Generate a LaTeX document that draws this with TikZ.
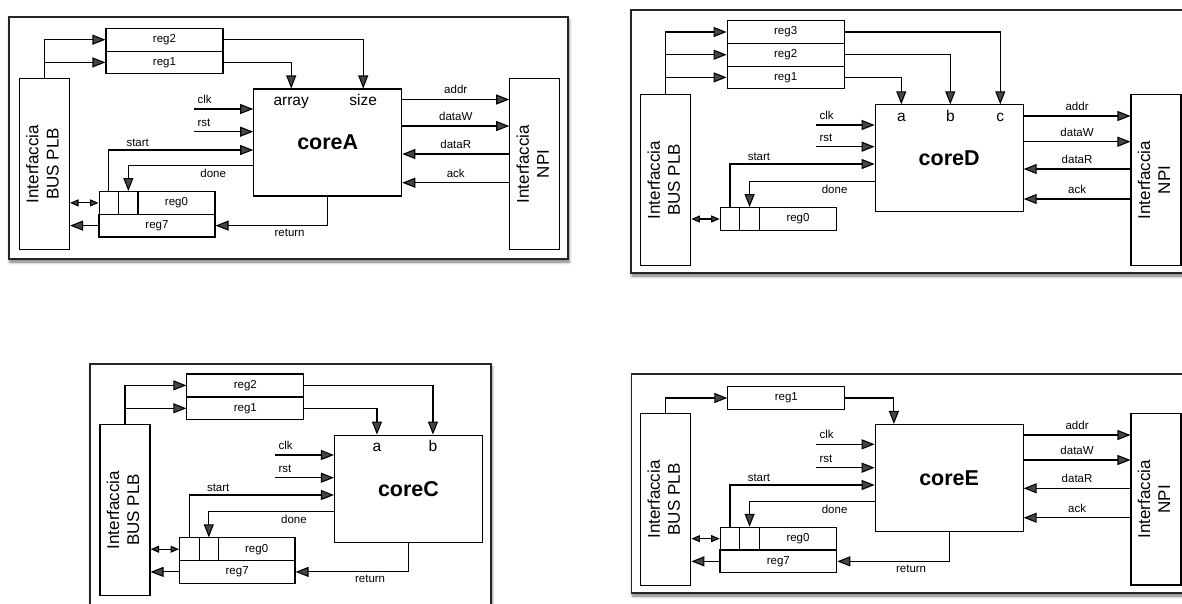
\documentclass[tikz,border=0pt]{standalone}
\usepackage{fontspec}
\usepackage{graphicx}
\setmainfont{Liberation Sans}
\usetikzlibrary{arrows.meta,shadows.blur}
\newcommand\sigsz{\fontsize{11.5}{13}\selectfont}
\newcommand\portsz{\fontsize{15.5}{17}\selectfont}
\newcommand\coresz{\fontsize{21.5}{24}\selectfont\bfseries}
\newcommand\ifsz{\fontsize{17}{20}\selectfont}
\newcommand\iftext[1]{\rotatebox{90}{\begin{tabular}{@{}c@{}}#1\end{tabular}}}
\tikzset{
  panel/.style={draw=black!85,line width=1.3pt,fill=white,blur shadow={shadow xshift=1pt,shadow yshift=-3pt,shadow blur radius=3pt,shadow opacity=55}},
  blk/.style={draw,line width=1.1pt,inner sep=0pt,fill=white,font=\sigsz},
  iface/.style={blk,minimum width=50,minimum height=171.5,font=\ifsz},
  core/.style={blk,minimum width=148,minimum height=107,font=\coresz},
  reg/.style={blk,minimum width=117,minimum height=22.7},
  cell/.style={blk,minimum width=19.5,minimum height=22.7},
  reghi/.style={blk,minimum width=77,minimum height=22.7},
  port/.style={font=\portsz,anchor=north,inner xsep=2pt,inner ysep=5pt,text height=11.5pt,text depth=3pt},
  arr/.style={line width=1.1pt,-{Triangle[length=13pt,width=10pt]}},
  dbl/.style={line width=1.1pt,{Triangle[length=8.5pt,width=7pt]}-{Triangle[length=8.5pt,width=7pt]}},
  lab/.style={font=\sigsz,inner sep=3pt},
}
\begin{document}
\begin{tikzpicture}[x=1pt,y=-1pt]
\useasboundingbox (0,0) rectangle (1182,603);
\clip (0,0) rectangle (1182,603);
% coreA
\path[panel] (9,17) rectangle (568,259);
\node[reg] (reg2A) at (164.5,39.7) {reg2};
\node[reg] (reg1A) at (164.5,62.4) {reg1};
\node[iface] (busA) at (44.5,164) {\iftext{Interfaccia\\BUS PLB}};
\node[core] (coreA) at (327.75,142.5) {coreA};
\node[iface] (npiA) at (534.75,164) {\iftext{Interfaccia\\NPI}};
\node[port] (arrayA) at ([xshift=38pt]coreA.north west) {array};
\node[port] (sizeA) at ([xshift=110pt]coreA.north west) {size};
\node[cell] (c1A) at (108.85,202.9) {};
\node[cell] (c2A) at (128.35,202.9) {};
\node[reghi] (reg0A) at (176.5,202.9) {reg0};
\node[reg,minimum width=116] (reg7A) at (157,225.6) {reg7};
\coordinate (clkA) at (194,109);
\coordinate (rstA) at (194,131.7);
\draw[arr] (busA.north) |- (reg2A.west);
\draw[arr] (busA.north) |- (reg1A.west);
\draw[arr] (reg1A.east) -| (arrayA.north);
\draw[arr] (reg2A.east) -| (sizeA.north);
\draw[arr] (clkA) node[lab,above right,yshift=2pt] {clk} -- (clkA -| coreA.west);
\draw[arr] (rstA) node[lab,above right,yshift=2pt] {rst} -- (rstA -| coreA.west);
\draw[arr] (c1A.north) |- node[lab,above,pos=0.6] {start} (coreA.west |- 0,150);
\draw[arr] (coreA.west |- 0,165.5) -| node[lab,below,pos=0.16] {done} (c2A.north);
\draw[dbl] (busA.east |- c1A.west) -- (c1A.west);
\draw[arr] (reg7A.west) -- (reg7A.west -| busA.east);
\draw[arr] (coreA.south) |- node[lab,below,pos=0.67] {return} (reg7A.east);
\draw[arr] (coreA.east |- 0,99.5) -- node[lab,above,yshift=2pt] {addr} (npiA.west |- 0,99.5);
\draw[arr] (coreA.east |- 0,126) -- node[lab,above,yshift=2pt] {dataW} (npiA.west |- 0,126);
\draw[arr] (npiA.west |- 0,154) -- node[lab,above,yshift=2pt] {dataR} (coreA.east |- 0,154);
\draw[arr] (npiA.west |- 0,182.7) -- node[lab,above,yshift=2pt] {ack} (coreA.east |- 0,182.7);
% coreD
\path[panel] (631,10) rectangle (1195,273);
\node[reg] (reg3D) at (785.65,32) {reg3};
\node[reg] (reg2D) at (785.65,54.7) {reg2};
\node[reg] (reg1D) at (785.65,77.4) {reg1};
\node[iface] (busD) at (665.85,180) {\iftext{Interfaccia\\BUS PLB}};
\node[core] (coreD) at (949.15,158.35) {coreD};
\node[iface] (npiD) at (1156,180) {\iftext{Interfaccia\\NPI}};
\node[port] (aD) at ([xshift=26.7pt]coreD.north west) {a};
\node[port] (bD) at ([xshift=75.7pt]coreD.north west) {b};
\node[port] (cD) at ([xshift=125.7pt]coreD.north west) {c};
\node[cell] (c1D) at (730,219) {};
\node[cell] (c2D) at (749.6,219) {};
\node[reghi,minimum width=77.4] (reg0D) at (798,219) {reg0};
\coordinate (clkD) at (816,125);
\coordinate (rstD) at (816,146.7);
\draw[arr] (busD.north) |- (reg3D.west);
\draw[arr] (busD.north) |- (reg2D.west);
\draw[arr] (busD.north) |- (reg1D.west);
\draw[arr] (reg1D.east) -| (aD.north);
\draw[arr] (reg2D.east) -| (bD.north);
\draw[arr] (reg3D.east) -| (cD.north);
\draw[arr] (clkD) node[lab,above right,yshift=2pt] {clk} -- (clkD -| coreD.west);
\draw[arr] (rstD) node[lab,above right,yshift=2pt] {rst} -- (rstD -| coreD.west);
\draw[arr] (c1D.north) |- node[lab,above,pos=0.6] {start} (coreD.west |- 0,164);
\draw[arr] (coreD.west |- 0,181.7) -| node[lab,below,pos=0.16] {done} (c2D.north);
\draw[dbl] (busD.east |- c1D.west) -- (c1D.west);
\draw[arr] (coreD.east |- 0,116) -- node[lab,above,yshift=2pt] {addr} (npiD.west |- 0,116);
\draw[arr] (coreD.east |- 0,141.7) -- node[lab,above,yshift=2pt] {dataW} (npiD.west |- 0,141.7);
\draw[arr] (npiD.west |- 0,169) -- node[lab,above,yshift=2pt] {dataR} (coreD.east |- 0,169);
\draw[arr] (npiD.west |- 0,199) -- node[lab,above,yshift=2pt] {ack} (coreD.east |- 0,199);
% coreC
\path[panel] (90,364) rectangle (491,620);
\node[reg] (reg2C) at (245.35,385.35) {reg2};
\node[reg] (reg1C) at (245.35,408.3) {reg1};
\node[iface] (busC) at (125,510) {\iftext{Interfaccia\\BUS PLB}};
\node[core] (coreC) at (408.5,488.65) {coreC};
\node[port] (aC) at ([xshift=43pt]coreC.north west) {a};
\node[port] (bC) at ([xshift=99pt]coreC.north west) {b};
\node[cell] (c1C) at (189.3,549.2) {};
\node[cell] (c2C) at (208.8,549.2) {};
\node[reghi,minimum width=76.7] (reg0C) at (256.65,549.2) {reg0};
\node[reg,minimum width=115.7] (reg7C) at (237.15,571.9) {reg7};
\coordinate (clkC) at (275,455);
\coordinate (rstC) at (275,477.7);
\draw[arr] (busC.north) |- (reg2C.west);
\draw[arr] (busC.north) |- (reg1C.west);
\draw[arr] (reg1C.east) -| (aC.north);
\draw[arr] (reg2C.east) -| (bC.north);
\draw[arr] (clkC) node[lab,above right,yshift=2pt] {clk} -- (clkC -| coreC.west);
\draw[arr] (rstC) node[lab,above right,yshift=2pt] {rst} -- (rstC -| coreC.west);
\draw[arr] (c1C.north) |- node[lab,above,pos=0.6] {start} (coreC.west |- 0,495);
\draw[arr] (coreC.west |- 0,511.7) -| node[lab,below,pos=0.16] {done} (c2C.north);
\draw[dbl] (busC.east |- c1C.west) -- (c1C.west);
\draw[arr] (reg7C.west) -- (reg7C.west -| busC.east);
\draw[arr] (coreC.south) |- node[lab,below,pos=0.67] {return} (reg7C.east);
% coreE
\path[panel] (631.7,374) rectangle (1195,593);
\node[reg] (reg1E) at (786.35,398) {reg1};
\node[iface] (busE) at (665.85,499.5) {\iftext{Interfaccia\\BUS PLB}};
\node[core] (coreE) at (949.15,478) {coreE};
\node[iface] (npiE) at (1156,499.2) {\iftext{Interfaccia\\NPI}};
\node[cell] (c1E) at (730,538.65) {};
\node[cell] (c2E) at (749.6,538.65) {};
\node[reghi,minimum width=77.4] (reg0E) at (798,538.65) {reg0};
\node[reg,minimum width=116.7] (reg7E) at (778.35,561.35) {reg7};
\coordinate (clkE) at (816,444.3);
\coordinate (rstE) at (816,467.7);
\draw[arr] (busE.north) |- (reg1E.west);
\draw[arr] (reg1E.east) -| ([xshift=19.3pt]coreE.north west);
\draw[arr] (clkE) node[lab,above right,yshift=2pt] {clk} -- (clkE -| coreE.west);
\draw[arr] (rstE) node[lab,above right,yshift=2pt] {rst} -- (rstE -| coreE.west);
\draw[arr] (c1E.north) |- node[lab,above,pos=0.6] {start} (coreE.west |- 0,485);
\draw[arr] (coreE.west |- 0,501.7) -| node[lab,below,pos=0.16] {done} (c2E.north);
\draw[dbl] (busE.east |- c1E.west) -- (c1E.west);
\draw[arr] (reg7E.west) -- (reg7E.west -| busE.east);
\draw[arr] (coreE.south) |- node[lab,below,pos=0.67] {return} (reg7E.east);
\draw[arr] (coreE.east |- 0,435) -- node[lab,above,yshift=2pt] {addr} (npiE.west |- 0,435);
\draw[arr] (coreE.east |- 0,460) -- node[lab,above,yshift=2pt] {dataW} (npiE.west |- 0,460);
\draw[arr] (npiE.west |- 0,488.3) -- node[lab,above,yshift=2pt] {dataR} (coreE.east |- 0,488.3);
\draw[arr] (npiE.west |- 0,517.7) -- node[lab,above,yshift=2pt] {ack} (coreE.east |- 0,517.7);
\end{tikzpicture}
\end{document}
